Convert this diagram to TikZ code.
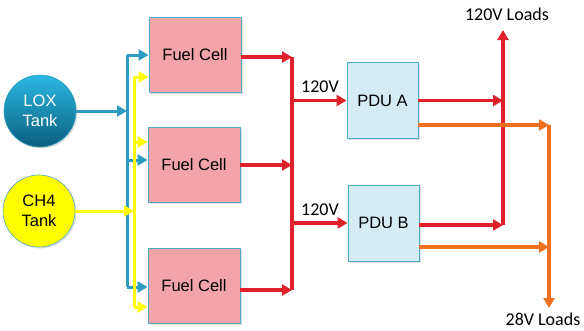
\documentclass[tikz,border=0pt]{standalone}
\usepackage{fontspec}
\setmainfont{Liberation Sans}
\newfontfamily\calib{Carlito}
\usetikzlibrary{arrows.meta,shadows}
\definecolor{bluel}{HTML}{2E9CC0}
\definecolor{boxedge}{HTML}{4BACC6}
\definecolor{fcfill}{HTML}{F2A4A8}
\definecolor{pdufill}{HTML}{D4EDF5}
\definecolor{redl}{HTML}{E0202A}
\definecolor{orgl}{HTML}{F07020}
\definecolor{yell}{HTML}{FFFF00}
\definecolor{loxtop}{HTML}{2BB8E2}
\definecolor{loxbot}{HTML}{0A5F7E}
\tikzset{
  fcbox/.style={draw=boxedge,fill=fcfill,line width=0.9pt,minimum width=92pt,minimum height=75pt,font=\fontsize{16.5}{18}\selectfont,drop shadow={opacity=0.25,shadow xshift=1.5pt,shadow yshift=-1.5pt}},
  pdubox/.style={draw=boxedge,fill=pdufill,line width=0.9pt,minimum width=71pt,minimum height=76pt,font=\fontsize{16.5}{18}\selectfont,drop shadow={opacity=0.25,shadow xshift=1.5pt,shadow yshift=-1.5pt}},
  tank/.style={circle,minimum size=72pt,inner sep=0pt,align=center,font=\fontsize{16.5}{20}\selectfont,drop shadow={opacity=0.25,shadow xshift=1.5pt,shadow yshift=-1.5pt}},
  tip/.style={-{Triangle[length=10pt,width=11pt]}},
  blueline/.style={draw=bluel,line width=3pt},
  yelline/.style={draw=yell,line width=3pt},
  redline/.style={draw=redl,line width=3.6pt},
  orgline/.style={draw=orgl,line width=3.2pt},
  lbl/.style={font=\calib\fontsize{18}{20}\selectfont,inner sep=0pt},
}
\begin{document}
\begin{tikzpicture}[x=1pt,y=-1pt]
\useasboundingbox (0,0) rectangle (584,330);
% tanks
\node[tank,draw=bluel,line width=0.6pt,top color=loxtop,bottom color=loxbot,text=white] (lox) at (40,111) {LOX\\Tank};
\node[tank,draw=boxedge,line width=0.6pt,fill=yell] (ch4) at (39,211) {CH4\\Tank};
% fuel cells
\node[fcbox] (fc1) at (195,54.5) {Fuel Cell};
\node[fcbox] (fc2) at (194,165) {Fuel Cell};
\node[fcbox] (fc3) at (194,285.5) {Fuel Cell};
% PDUs
\node[pdubox] (pa) at (382.5,100.5) {PDU A};
\node[pdubox] (pb) at (383.5,223) {PDU B};
% bus coordinates
\coordinate (bt) at (127,55);
\coordinate (bb) at (127,287);
\coordinate (yt) at (134,77);
\coordinate (yb) at (134,307);
\coordinate (rt) at (292,57);
\coordinate (rb) at (292,290);
\coordinate (l120top) at (503,30);
\coordinate (l120bot) at (503,225);
\coordinate (o28top) at (549,125);
\coordinate (o28bot) at (549,308);
% blue supply
\draw[blueline] (bt) -- (bb);
\draw[blueline,tip] (lox.east) -- (lox.east -| bt);
\draw[blueline,tip] (bt) -- (bt -| fc1.west);
\draw[blueline,tip] (127,160) -- (fc2.west |- 0,160);
\draw[blueline,tip] (bb) -- (bb -| fc3.west);
% yellow supply
\draw[yelline] (yt) -- (yb);
\draw[yelline,tip] (ch4.east) -- (ch4.east -| yt);
\draw[yelline,tip] (yt) -- (yt -| fc1.west);
\draw[yelline,tip] (134,142) -- (fc2.west |- 0,142);
\draw[yelline,tip] (yb) -- (yb -| fc3.west);
% red collection
\draw[redline] (rt) -- (rb);
\draw[redline,tip] (fc1.east |- rt) -- (rt);
\draw[redline,tip] (fc2.east) -- (fc2.east -| rt);
\draw[redline,tip] (fc3.east |- rb) -- (rb);
\draw[redline,tip] (292,100.5) -- (pa.west);
\draw[redline,tip] (292,223) -- (pb.west);
\node[lbl,anchor=base] (v1) at (320,92) {120V};
\node[lbl,anchor=base] (v2) at (320,215) {120V};
% 120V loads
\draw[redline,tip] (l120bot) -- (l120top);
\draw[redline,tip] (pa.east) -- (pa.east -| l120top);
\draw[redline,tip] (pb.east |- l120bot) -- (l120bot);
\node[lbl] (ld120) at (507,14) {120V Loads};
% 28V loads
\draw[orgline,tip] (o28top) -- (o28bot);
\draw[orgline,tip] (pa.east |- o28top) -- (o28top);
\draw[orgline,tip] (pb.east |- 0,247) -- (o28bot |- 0,247);
\node[lbl] (ld28) at (543,319) {28V Loads};
\end{tikzpicture}
\end{document}
